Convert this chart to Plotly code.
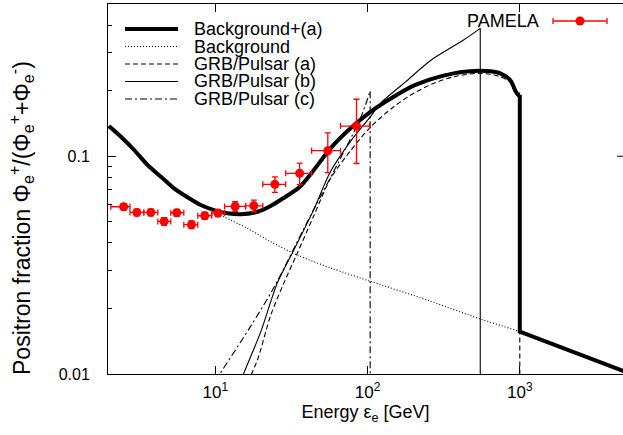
import numpy as np
import plotly.graph_objects as go

# ---------------- data ----------------
# PAMELA positron fraction
pamela_E = [2.50, 3.05, 3.77, 4.61, 5.58, 6.97, 8.52, 10.4, 13.5, 17.9, 24.6, 35.8, 54.8, 84.6]
pamela_f = [0.0586, 0.0552, 0.0552, 0.0502, 0.0550, 0.0485, 0.0533, 0.0548, 0.0588, 0.0592,
            0.0743, 0.0835, 0.106, 0.1376]
pamela_Elo = [2.06, 2.75, 3.39, 4.19, 5.10, 6.21, 7.67, 9.47, 11.5, 15.8, 20.5, 29.0, 42.9, 66.4]
pamela_Ehi = [2.75, 3.39, 4.19, 5.10, 6.21, 7.67, 9.47, 11.5, 15.8, 20.5, 29.0, 42.9, 66.4, 103.0]
pamela_df = [0.002, 0.002, 0.002, 0.002, 0.002, 0.002, 0.002, 0.002, 0.003, 0.0036,
             0.006, 0.0095, 0.022, 0.045]

# Background
bg_E = [2.0, 2.4, 2.93, 3.59, 4.39, 5.36, 6.56, 8.02, 9.8, 11.4, 16.2, 23.1, 34.5, 57.1,
        107, 246, 550, 1000, 5000]
bg_f = [0.1376, 0.1229, 0.1068, 0.0911, 0.0805, 0.0712, 0.0648, 0.0597, 0.0566, 0.0528,
        0.0467, 0.0405, 0.0352, 0.0307, 0.0265, 0.02187, 0.01789, 0.01564, 0.0102]

# Background + (a)  (up to the 1 TeV cut-off; above it the curve is the background)
tot_E = [2.0, 2.4, 2.93, 3.59, 4.39, 5.36, 6.56, 8.02, 9.8, 12.0, 14.7, 18.9, 23.1, 28.1,
         35.8, 44.4, 57.1, 77.3, 104.5, 148.6, 201, 272, 368, 450, 550, 640, 744, 865,
         905, 957, 1000]
tot_f = [0.1376, 0.1229, 0.1068, 0.0911, 0.0805, 0.0712, 0.0648, 0.0597, 0.0566, 0.0547,
         0.0541, 0.0556, 0.0591, 0.0643, 0.0722, 0.0864, 0.1087, 0.1343, 0.160, 0.1876,
         0.2108, 0.2279, 0.2402, 0.2450, 0.2470, 0.2455, 0.2402, 0.2238, 0.2110, 0.1944,
         0.1915]

# GRB/Pulsar (a)
a_E = [15.5, 18.9, 23.1, 28.1, 34.5, 44.4, 57.1, 77.3, 104.5, 148.6, 201, 272, 368, 550,
       744, 865, 909, 957, 1000]
a_f = [0.0085, 0.0116, 0.0186, 0.026, 0.0358, 0.0534, 0.079, 0.106, 0.136, 0.1688, 0.1944,
       0.2162, 0.2317, 0.2402, 0.2317, 0.218, 0.2014, 0.190, 0.186]

# GRB/Pulsar (b)
b_E = [14.0, 15.3, 19.9, 25.5, 32.8, 44.4, 57.1, 77.3, 104.5, 121.5, 177, 262, 427, 550]
b_f = [0.0085, 0.010, 0.01565, 0.0261, 0.0371, 0.057, 0.085, 0.117, 0.152, 0.1749, 0.219,
       0.2765, 0.3417, 0.3865]

# GRB/Pulsar (c)
c_E = [10.0, 10.7, 17.0, 24.3, 40.2, 65.0, 90.0, 104.0]
c_f = [0.0093, 0.010, 0.0165, 0.025, 0.050, 0.095, 0.150, 0.199]

FLOOR = 0.001  # the cut-off drops run down past the bottom of the axis
legend_names = ["Background+(a)", "Background", "GRB/Pulsar (a)", "GRB/Pulsar (b)", "GRB/Pulsar (c)"]

# ---------------- styles ----------------
FONT = "Liberation Sans, Arial, sans-serif"
st_tot = dict(color="black", width=4)
st_bg = dict(color="black", width=1.1, dash="1px,2px")
st_a = dict(color="black", width=1.1, dash="5px,3px")
st_b = dict(color="black", width=1.1)
st_c = dict(color="black", width=1.1, dash="7px,3px,2px,3px")
styles = [st_tot, st_bg, st_a, st_b, st_c]

fig = go.Figure()


def smooth(xs, ys, st, nm):
    fig.add_trace(go.Scatter(x=xs, y=ys, mode="lines", line=dict(st, shape="spline", smoothing=0.8),
                             name=nm, showlegend=False, hoverinfo="skip"))


def straight(xs, ys, st, nm):
    fig.add_trace(go.Scatter(x=xs, y=ys, mode="lines", line=st, name=nm, showlegend=False,
                             hoverinfo="skip"))


# Background+(a): smooth rise, vertical cut at 1 TeV, then background tail
smooth(tot_E, tot_f, st_tot, legend_names[0])
straight([tot_E[-1], tot_E[-1], bg_E[-1]], [tot_f[-1], bg_f[-2], bg_f[-1]], st_tot, legend_names[0])
# Background
smooth(bg_E, bg_f, st_bg, legend_names[1])
# pulsars: smooth curve + vertical drop at the cut-off
for xs, ys, st, nm in [(a_E, a_f, st_a, legend_names[2]), (b_E, b_f, st_b, legend_names[3]),
                       (c_E, c_f, st_c, legend_names[4])]:
    smooth(xs, ys, st, nm)
    straight([xs[-1], xs[-1]], [ys[-1], FLOOR], st, nm)

err_plus = [hi - e for hi, e in zip(pamela_Ehi, pamela_E)]
err_minus = [e - lo for lo, e in zip(pamela_Elo, pamela_E)]
fig.add_trace(go.Scatter(
    x=pamela_E, y=pamela_f, mode="markers", name="PAMELA", showlegend=False,
    marker=dict(color="#ff0000", size=9),
    error_x=dict(type="data", array=err_plus, arrayminus=err_minus, color="#ff0000",
                 thickness=1.3, width=3),
    error_y=dict(type="data", array=pamela_df, color="#ff0000", thickness=1.3, width=3),
))

# ---------------- layout ----------------
W, H = 623, 435
L, R, T, B = 108, 0, 4, 61
pw, ph = W - L - R, H - T - B


def px_x(x):
    return (x - L) / pw


def px_y(y):
    return (H - B - y) / ph


shapes = []
annotations = []
row_y = [29, 46.5, 64, 81.5, 99]
for st, nm, yy in zip(styles, legend_names, row_y):
    shapes.append(dict(type="line", xref="paper", yref="paper", x0=px_x(125), x1=px_x(178),
                       y0=px_y(yy), y1=px_y(yy), line=st))
    annotations.append(dict(text=nm, xref="paper", yref="paper", x=px_x(192), y=px_y(yy),
                            xanchor="left", yanchor="middle", showarrow=False,
                            font=dict(size=18, family=FONT, color="black")))

# PAMELA key (text on the left of the sample)
py = 21
annotations.append(dict(text="PAMELA", xref="paper", yref="paper", x=px_x(541), y=px_y(py),
                        xanchor="right", yanchor="middle", showarrow=False,
                        font=dict(size=18, family=FONT, color="black")))
red = dict(color="#ff0000", width=1.3)
shapes.append(dict(type="line", xref="paper", yref="paper", x0=px_x(553), x1=px_x(607),
                   y0=px_y(py), y1=px_y(py), line=red))
for xc in (553, 607):
    shapes.append(dict(type="line", xref="paper", yref="paper", x0=px_x(xc), x1=px_x(xc),
                       y0=px_y(py - 3), y1=px_y(py + 3), line=red))
shapes.append(dict(type="circle", xref="paper", yref="paper", x0=px_x(575.5), x1=px_x(584.5),
                   y0=px_y(py - 4.5), y1=px_y(py + 4.5), line=dict(color="#ff0000", width=0),
                   fillcolor="#ff0000"))

# mirrored major tick of the right-hand border (the border itself lies just past the page)
shapes.append(dict(type="line", xref="paper", yref="y", x0=px_x(617), x1=1.0, y0=0.1, y1=0.1,
                   line=dict(color="black", width=1)))

# y axis title
annotations.append(dict(
    text="Positron fraction Φ<sub>e</sub><sup>+</sup>/(Φ<sub>e</sub><sup>+</sup>+Φ<sub>e</sub><sup>-</sup>)",
    xref="paper", yref="paper", x=px_x(21), y=px_y(218), xanchor="center", yanchor="middle",
    textangle=-90, showarrow=False, font=dict(size=23, family=FONT, color="black")))

fig.update_layout(
    width=W, height=H, margin=dict(l=L, r=R, t=T, b=B, pad=0),
    plot_bgcolor="white", paper_bgcolor="white",
    font=dict(family=FONT, size=16, color="black"),
    showlegend=False, shapes=shapes, annotations=annotations,
)

minor_y = [k * 0.01 for k in range(2, 10)] + [0.2, 0.3, 0.4]
fig.update_xaxes(
    type="log", range=[0.295, 3.678], showline=True, linecolor="black", linewidth=1,
    mirror="ticks", ticks="inside", ticklen=8, tickwidth=1, tickcolor="black",
    tickvals=[10, 100, 1000], ticktext=["10<sup>1</sup>", "10<sup>2</sup>", "10<sup>3</sup>"],
    showgrid=False, zeroline=False, ticklabelstandoff=3,
    tickfont=dict(size=17, family=FONT, color="black"),
    title=dict(text="Energy ε<sub>e</sub> [GeV]", font=dict(size=18, family=FONT, color="black"),
               standoff=2),
)
fig.update_yaxes(
    type="log", range=[-2, np.log10(0.5)], showline=True, linecolor="black", linewidth=1,
    mirror=False, ticks="inside", ticklen=8, tickwidth=1, tickcolor="black",
    tickvals=[0.01, 0.1], ticktext=["0.01", "0.1"],
    minor=dict(ticks="inside", ticklen=4, tickwidth=1, tickcolor="black", tickvals=minor_y,
               showgrid=False),
    showgrid=False, zeroline=False, ticklabelstandoff=14,
    tickfont=dict(size=16, family=FONT, color="black"),
)

fig.write_html("out.html", config={"displayModeBar": False},
               post_script="document.body.style.margin='0px';")
